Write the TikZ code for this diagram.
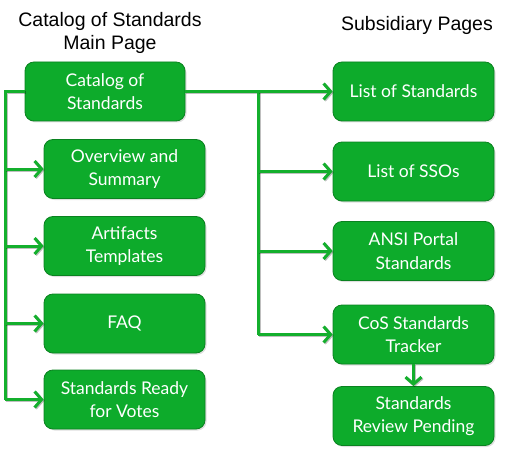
\documentclass[tikz,border=0pt]{standalone}
\usepackage{fontspec}
\setmainfont{Liberation Sans}
\newfontfamily\boxfont{Lato}
\usetikzlibrary{arrows.meta,shadows}
\definecolor{boxgreen}{RGB}{13,171,43}
\definecolor{boxborder}{RGB}{10,130,32}
\definecolor{linegreen}{RGB}{20,175,45}
\tikzset{
  pagebox/.style={draw=boxborder, line width=0.8pt, fill=boxgreen, rounded corners=9pt,
    minimum width=161pt, minimum height=59pt, inner sep=2pt, align=center,
    text=white, font=\boxfont\fontsize{17.5}{23.5}\selectfont,
    drop shadow={opacity=0.25, shadow xshift=1.5pt, shadow yshift=-1.5pt}},
  conn/.style={draw=linegreen, line width=3pt,
    preaction={draw=black, opacity=0.25, line width=3pt, transform canvas={xshift=1pt,yshift=-1pt}}},
  arr/.style={conn, -{Straight Barb[length=7pt,width=16pt,line width=3pt]}},
  title/.style={font=\fontsize{19.5}{23.5}\selectfont, align=center, text=black}
}
\begin{document}
\begin{tikzpicture}[x=1pt,y=-1pt]
\useasboundingbox (0,0) rectangle (520,452);
\node[title] (t1) at (110,33) {Catalog of Standards\\Main Page};
\node[title] (t2) at (417,25) {Subsidiary Pages};

\node[pagebox, minimum width=160pt] (main) at (105,91.5) {Catalog of\\Standards};
\node[pagebox] (ov) at (124.5,169) {Overview and\\Summary};
\node[pagebox] (art) at (124.5,246) {Artifacts\\Templates};
\node[pagebox] (faq) at (124.5,323.5) {FAQ};
\node[pagebox] (ready) at (124.5,399.5) {Standards Ready\\for Votes};

\node[pagebox] (ls) at (413.5,91.5) {List of Standards};
\node[pagebox] (sso) at (413.5,171.5) {List of SSOs};
\node[pagebox] (ansi) at (413.5,251) {ANSI Portal\\Standards};
\node[pagebox] (cos) at (413.5,334.5) {CoS Standards\\Tracker};
\node[pagebox] (rev) at (413.5,416) {Standards\\Review Pending};

\coordinate (lt) at (5,91.5);
\coordinate (rj) at (258,91.5);

\draw[conn] (main.west) -- (lt) -- (lt |- ready.west);
\draw[arr] (lt |- ov.west) -- (ov.west);
\draw[arr] (lt |- art.west) -- (art.west);
\draw[arr] (lt |- faq.west) -- (faq.west);
\draw[arr] (lt |- ready.west) -- (ready.west);

\draw[conn] (main.east) -- (rj) -- (rj |- cos.west);
\draw[arr] (rj) -- (ls.west);
\draw[arr] (rj |- sso.west) -- (sso.west);
\draw[arr] (rj |- ansi.west) -- (ansi.west);
\draw[arr] (rj |- cos.west) -- (cos.west);
\draw[arr] (cos.south) -- (rev.north);
\end{tikzpicture}
\end{document}
